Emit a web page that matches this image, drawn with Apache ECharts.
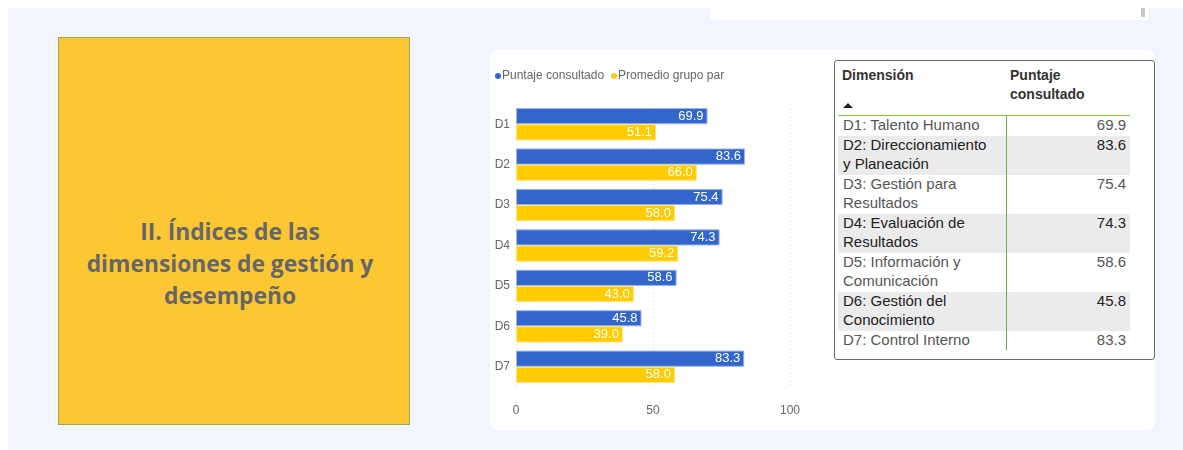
<!DOCTYPE html>
<html>
<head>
<meta charset="utf-8">
<script src="https://cdn.jsdelivr.net/npm/echarts@6/dist/echarts.min.js"></script>
<style>
  html, body { margin:0; padding:0; background:#ffffff; width:1183px; height:450px; overflow:hidden; font-family:"Liberation Sans", Arial, sans-serif; }
  #panel { position:absolute; left:8px; top:8px; width:1175px; height:442px; background:#f2f5fd; }
  #topbox { position:absolute; left:710px; top:8px; width:438px; height:12px; background:#ffffff; }
  #scroll { position:absolute; left:1141px; top:8px; width:4px; height:9px; background:#c8c8c8; }
  #titlebox { position:absolute; left:58px; top:37px; width:350px; height:386px; background:#fdc633; border:1px solid #9fa84a; }
  #titletext { position:absolute; left:0; right:8px; top:178px; text-align:center; font-family:"Open Sans","Noto Sans",sans-serif; font-weight:bold; font-size:22.8px; line-height:32px; color:#666666; }
  #card { position:absolute; left:490px; top:50px; width:665px; height:380px; background:#ffffff; border-radius:8px; }
  #chart { position:absolute; left:490px; top:50px; width:340px; height:380px; }
  #table { position:absolute; left:834px; top:60px; width:319px; height:298px; border:1px solid #6b6b6b; border-radius:3px; background:#fff; }
  .hdr { position:absolute; font-weight:bold; font-size:14px; line-height:19px; color:#333; }
  #arrow { position:absolute; left:8px; top:42px; width:0; height:0; border-left:5px solid transparent; border-right:5px solid transparent; border-bottom:5px solid #222; }
  #hline { position:absolute; left:3px; top:54px; width:292px; height:1px; background:#8bc34a; }
  #vline { position:absolute; left:171px; top:55px; width:1px; height:234px; background:#6aaf3a; }
  .row { position:absolute; left:3px; width:292px; font-size:15px; line-height:19.5px; }
  .row .c1 { position:absolute; left:5px; top:-1px; width:162px; }
  .row .c2 { position:absolute; right:4px; top:-1px; text-align:right; }
</style>
</head>
<body>
<div id="panel"></div>
<div id="topbox"></div>
<div id="scroll"></div>
<div id="titlebox"><div id="titletext">II. Índices de las<br>dimensiones de gestión y<br>desempeño</div></div>
<div id="card"></div>
<div id="chart"></div>
<div id="table">
  <div class="hdr" style="left:7px;top:5px;">Dimensión</div>
  <div class="hdr" style="left:175px;top:5px;">Puntaje<br>consultado</div>
  <div id="arrow"></div>
  <div id="hline"></div>
  <div id="rows"></div>
  <div id="vline"></div>
</div>
<script>
const categories = ['D1','D2','D3','D4','D5','D6','D7'];
const puntajeConsultado = [69.9, 83.6, 75.4, 74.3, 58.6, 45.8, 83.3];
const promedioGrupoPar = [51.1, 66.0, 58.0, 59.2, 43.0, 39.0, 58.0];
const dimensionLines = [
  ['D1: Talento Humano'],
  ['D2: Direccionamiento', 'y Planeación'],
  ['D3: Gestión para', 'Resultados'],
  ['D4: Evaluación de', 'Resultados'],
  ['D5: Información y', 'Comunicación'],
  ['D6: Gestión del', 'Conocimiento'],
  ['D7: Control Interno']
];
const seriesNames = ['Puntaje consultado', 'Promedio grupo par'];
const xTicks = { min: 0, max: 100, interval: 50 };

// Table rows built from data
const rowsEl = document.getElementById('rows');
let y = 55;
dimensionLines.forEach((lines, i) => {
  const h = lines.length * 19.5;
  const r = document.createElement('div');
  r.className = 'row';
  r.style.top = y + 'px';
  r.style.height = h + 'px';
  const even = i % 2 === 1;
  r.style.background = even ? '#ebebeb' : '#ffffff';
  r.style.color = even ? '#222222' : '#555555';
  r.innerHTML = '<div class="c1">' + lines.join('<br>') + '</div><div class="c2">' + puntajeConsultado[i].toFixed(1) + '</div>';
  rowsEl.appendChild(r);
  y += h;
});

const chart = echarts.init(document.getElementById('chart'), null, { renderer: 'canvas' });
const labelCfg = { show: true, position: 'insideRight', color: '#ffffff', fontSize: 13, distance: 4, formatter: p => p.value.toFixed(1), fontFamily: 'Liberation Sans, Arial, sans-serif' };
chart.setOption({
  animation: false,
  textStyle: { fontFamily: 'Liberation Sans, Arial, sans-serif' },
  legend: {
    left: 0, top: 15,
    itemWidth: 6, itemHeight: 6, itemGap: 7,
    icon: 'circle',
    itemStyle: { borderWidth: 0 },
    textStyle: { color: '#666666', fontSize: 12, padding: [0,0,0,-4] },
    data: seriesNames
  },
  grid: { left: 26, right: 40, top: 54, bottom: 43, containLabel: false },
  xAxis: {
    type: 'value', min: xTicks.min, max: xTicks.max, interval: xTicks.interval,
    axisLine: { show: false }, axisTick: { show: false },
    axisLabel: { color: '#666666', fontSize: 12, margin: 18 },
    splitLine: { show: true, lineStyle: { color: '#dcdcdc', type: [1, 3] } }
  },
  yAxis: {
    type: 'category', data: categories, inverse: true,
    axisLine: { show: false }, axisTick: { show: false },
    axisLabel: { color: '#666666', fontSize: 12, margin: 6 }
  },
  series: [
    { name: seriesNames[0], type: 'bar', data: puntajeConsultado, barGap: '0%', barCategoryGap: '20%',
      itemStyle: { color: '#3366cc', borderColor: '#9db3ea', borderWidth: 1 }, label: labelCfg },
    { name: seriesNames[1], type: 'bar', data: promedioGrupoPar, barGap: '0%', barCategoryGap: '20%',
      itemStyle: { color: '#ffcc00', borderColor: '#ffe380', borderWidth: 1 }, label: labelCfg }
  ],
  color: ['#3366cc', '#ffcc00']
});
</script>
</body>
</html>
